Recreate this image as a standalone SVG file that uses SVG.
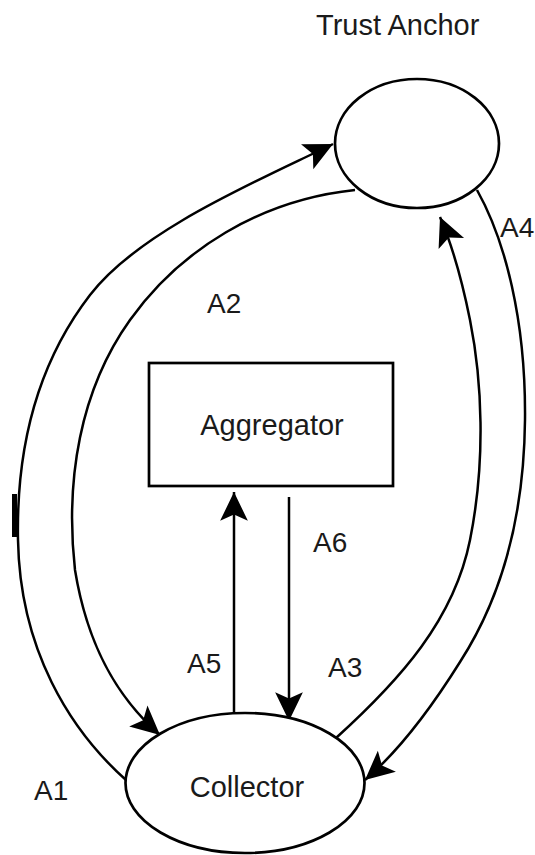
<svg xmlns="http://www.w3.org/2000/svg" width="535" height="855" viewBox="0 0 535 855">
  <style>
    .node { fill: #fff; stroke: #000; stroke-width: 2.7; }
    .edge { fill: none; stroke: #000; stroke-width: 2.5; }
    .name { font-family: "Liberation Sans", Arial, sans-serif; font-size: 29px; fill: #1a1a1a; }
    .lbl { font-family: "Liberation Sans", Arial, sans-serif; font-size: 28px; fill: #1a1a1a; }
  </style>
  <defs>
    <marker id="arrow" markerUnits="userSpaceOnUse" markerWidth="32" markerHeight="32" viewBox="-28 -15 30 30" refX="0" refY="0" orient="auto">
      <path d="M 0 0 L -27 -13 L -21 0 L -27 13 Z" fill="#000"/>
    </marker>
  </defs>

  <rect width="535" height="855" fill="#fff"/>

  <!-- connectors -->
  <g id="connectors">
    <!-- A1: Collector to Trust Anchor, outer left -->
    <path class="edge" d="M 126 780 C 70 730, 20 650, 18 540 C 16 440, 40 360, 90 295 C 140 230, 260 180, 333 144" marker-end="url(#arrow)"/>
    <rect x="12" y="494" width="5" height="43" fill="#000"/>
    <!-- A2: Trust Anchor to Collector, inner left -->
    <path class="edge" d="M 355 190 C 260 200, 180 250, 130 320 C 80 390, 65 480, 75 570 C 88 650, 120 700, 160 735" marker-end="url(#arrow)"/>
    <!-- A3: Collector to Trust Anchor, inner right -->
    <path class="edge" d="M 336 738 C 400 680, 454 620, 470 540 C 486 460, 482 380, 470 320 C 462 280, 452 245, 440 217" marker-end="url(#arrow)"/>
    <!-- A4: Trust Anchor to Collector, outer right -->
    <path class="edge" d="M 477 190 C 505 240, 526 320, 525 420 C 524 520, 500 600, 460 662 C 430 710, 400 750, 365 780" marker-end="url(#arrow)"/>
    <!-- A5: Collector to Aggregator -->
    <path class="edge" d="M 234 721 L 234 492" marker-end="url(#arrow)"/>
    <!-- A6: Aggregator to Collector -->
    <path class="edge" d="M 289 497 L 289 721" marker-end="url(#arrow)"/>

    <text class="lbl" x="34" y="800">A1</text>
    <text class="lbl" x="207" y="313">A2</text>
    <text class="lbl" x="328" y="677">A3</text>
    <text class="lbl" x="500" y="237" font-size="27">A4</text>
    <text class="lbl" x="187" y="673">A5</text>
    <text class="lbl" x="313" y="552">A6</text>
  </g>

  <!-- nodes -->
  <g id="trust-anchor">
    <ellipse class="node" cx="417" cy="143.5" rx="82" ry="64.5"/>
    <text class="name" x="316" y="35">Trust Anchor</text>
  </g>

  <g id="aggregator">
    <rect class="node" x="149" y="363" width="244" height="123"/>
    <text class="name" x="272" y="435" text-anchor="middle">Aggregator</text>
  </g>

  <g id="collector">
    <ellipse class="node" cx="245" cy="783" rx="119.5" ry="70"/>
    <text class="name" x="247" y="797" text-anchor="middle">Collector</text>
  </g>
</svg>
